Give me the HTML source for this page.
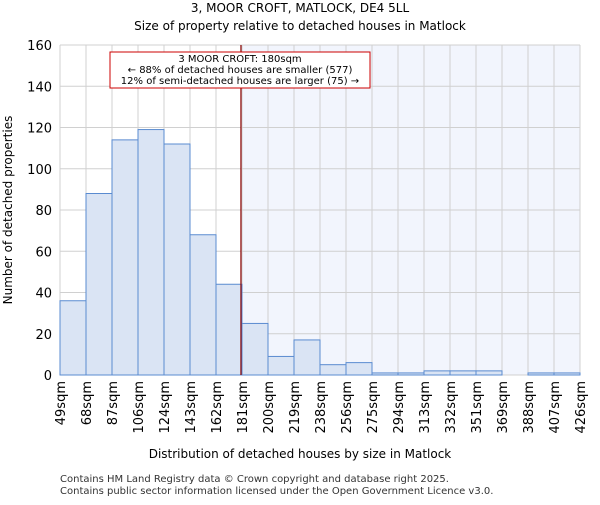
<!DOCTYPE html>
<html><head><meta charset="utf-8"><style>body{margin:0;background:#fff}svg{font-family:"DejaVu Sans","Liberation Sans",sans-serif}</style></head>
<body>
<svg id="c" width="600" height="500" viewBox="0 0 600 500">
<text x="300" y="12" text-anchor="middle" font-size="12">3, MOOR CROFT, MATLOCK, DE4 5LL</text>
<text x="300" y="30" text-anchor="middle" font-size="12">Size of property relative to detached houses in Matlock</text>
<g id="plot"></g>
<text x="300" y="458" text-anchor="middle" font-size="12">Distribution of detached houses by size in Matlock</text>
<text transform="translate(12,210) rotate(-90)" text-anchor="middle" font-size="12">Number of detached properties</text>
<text x="60" y="482" font-size="10" fill="#333">Contains HM Land Registry data © Crown copyright and database right 2025.</text>
<text x="60" y="494" font-size="10" fill="#333">Contains public sector information licensed under the Open Government Licence v3.0.</text>
</svg>
<script>
const categories=["49sqm","68sqm","87sqm","106sqm","124sqm","143sqm","162sqm","181sqm","200sqm","219sqm","238sqm","256sqm","275sqm","294sqm","313sqm","332sqm","351sqm","369sqm","388sqm","407sqm","426sqm"];
const counts=[36,88,114,119,112,68,44,25,9,17,5,6,1,1,2,2,2,0,1,1];
const yTicks=[0,20,40,60,80,100,120,140,160];
const propertyBin=7;
const propertyOffset=-0.04;
const X0=60,X1=580,Y0=375,Y1=45,YMAX=160;
const bw=(X1-X0)/counts.length;
const xs=i=>X0+i*bw, ys=v=>Y0-(v/YMAX)*(Y0-Y1);
const NS="http://www.w3.org/2000/svg", g=document.getElementById('plot');
function mk(t,a){const e=document.createElementNS(NS,t);for(const k in a)e.setAttribute(k,a[k]);g.appendChild(e);return e;}
const px=xs(propertyBin+propertyOffset);
const shade=mk('rect',{x:px,y:Y1,width:X1-px,height:Y0-Y1,fill:'#f2f5fd'});


yTicks.forEach(t=>{const l=mk('line',{x1:X0,x2:X1,y1:ys(t),y2:ys(t),stroke:'#d0d0d0'});


const tx=mk('text',{x:X0-8,y:ys(t)+5,'text-anchor':'end','font-size':13});tx.textContent=t;

});
categories.forEach((c,i)=>{const l=mk('line',{x1:xs(i),x2:xs(i),y1:Y1,y2:Y0,stroke:'#d0d0d0'});


const tx=mk('text',{transform:`translate(${xs(i)+5},381) rotate(-90)`,'text-anchor':'end','font-size':13});tx.textContent=c;

});
counts.forEach((v,i)=>{if(v<=0)return;const r=mk('rect',{x:xs(i),y:ys(v),width:bw,height:Y0-ys(v),fill:'#dae4f4',stroke:'#5a8bd0','stroke-width':1});

});
const pl=mk('line',{x1:px,x2:px,y1:Y1,y2:Y0,stroke:'#8b0000','stroke-width':1.2});


const box=mk('rect',{x:110,y:52,width:260,height:36,fill:'#fff',stroke:'#c00'});


["3 MOOR CROFT: 180sqm","← 88% of detached houses are smaller (577)","12% of semi-detached houses are larger (75) →"].forEach((s,i)=>{
const t=mk('text',{x:240,y:62+i*11,'text-anchor':'middle','font-size':10});t.textContent=s;

});
</script>
</body></html>
